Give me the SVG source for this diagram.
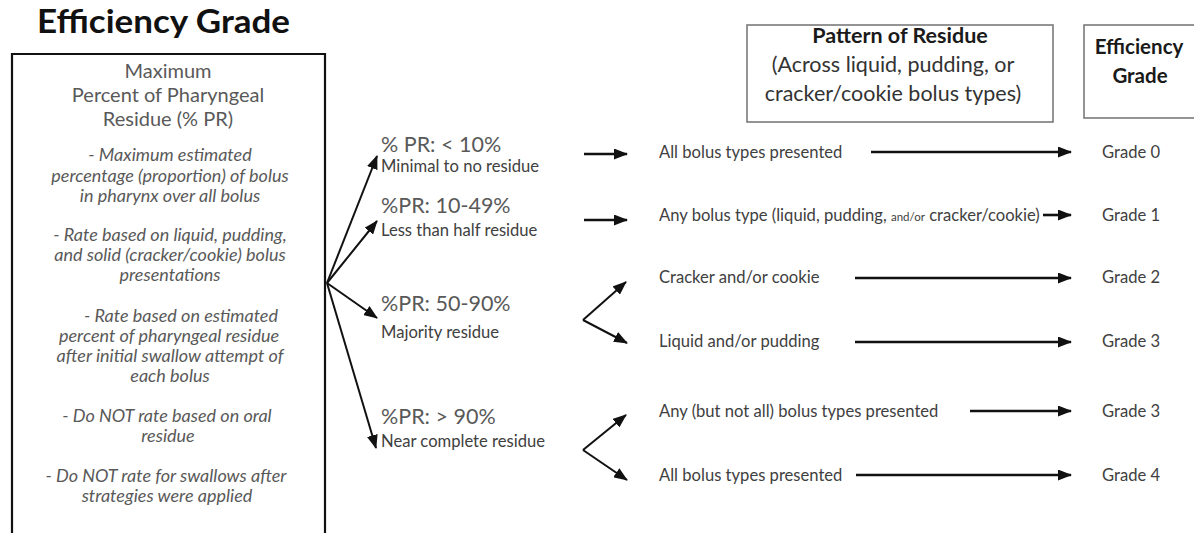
<svg xmlns="http://www.w3.org/2000/svg" width="1194" height="533" viewBox="0 0 1194 533">
  <style>
    .title { font-family: Lato, "Noto Sans", sans-serif; font-weight: 700; fill: #111; }
    .head { font-family: Lato, "Noto Sans", sans-serif; fill: #1a1a1a; }
    .big { font-family: Lato, "Noto Sans", sans-serif; fill: #595959; }
    .it { font-family: Lato, "Noto Sans", sans-serif; font-style: italic; fill: #595959; font-size: 18px; }
    .lbl { font-family: Lato, "Noto Sans", sans-serif; fill: #404040; font-size: 16.6px; }
    .box { fill: #fff; stroke: #111; stroke-width: 2.2; }
    .hbox { fill: #fff; stroke: #7a7a7a; stroke-width: 1.6; }
    .arr { stroke: #111; stroke-width: 2; fill: none; marker-end: url(#ah); }
    .arrT { stroke: #111; stroke-width: 2.6; fill: none; marker-end: url(#ah); }
  </style>
  <defs>
    <marker id="ah" markerUnits="userSpaceOnUse" markerWidth="14" markerHeight="11" refX="13" refY="5.5" orient="auto">
      <path d="M0,0 L14,5.5 L0,11 z" fill="#111"/>
    </marker>
  </defs>
  <rect width="1194" height="533" fill="#fff"/>

  <text class="title" x="37" y="33" font-size="32" textLength="253" lengthAdjust="spacingAndGlyphs">Efficiency Grade</text>

  <!-- criteria box (bottom edge runs off the page) -->
  <g id="criteria">
    <path class="box" d="M12,540 L12,54 L325,54 L325,540"/>
    <g class="big" font-size="20" text-anchor="middle">
      <text x="168" y="78">Maximum</text>
      <text x="168" y="102">Percent of Pharyngeal</text>
      <text x="168" y="126">Residue (% PR)</text>
    </g>
    <g class="it" text-anchor="middle">
      <text x="170" y="161">- Maximum estimated</text>
      <text x="170" y="182">percentage (proportion) of bolus</text>
      <text x="170" y="202">in pharynx over all bolus</text>
      <text x="170" y="241">- Rate based on liquid, pudding,</text>
      <text x="170" y="261">and solid (cracker/cookie) bolus</text>
      <text x="170" y="281">presentations</text>
      <text x="181" y="322">- Rate based on estimated</text>
      <text x="169" y="342">percent of pharyngeal residue</text>
      <text x="170" y="362">after initial swallow attempt of</text>
      <text x="170" y="382">each bolus</text>
      <text x="167" y="422">- Do NOT rate based on oral</text>
      <text x="168" y="442">residue</text>
      <text x="166" y="482">- Do NOT rate for swallows after</text>
      <text x="167" y="502">strategies were applied</text>
    </g>
  </g>

  <!-- header boxes -->
  <g id="pattern-header">
    <rect class="hbox" x="747" y="25" width="306" height="97"/>
    <g class="head" font-size="21.5" text-anchor="middle">
      <text x="900" y="43" font-weight="700">Pattern of Residue</text>
      <text x="893" y="72" fill="#333">(Across liquid, pudding, or</text>
      <text x="893" y="101" fill="#333">cracker/cookie bolus types)</text>
    </g>
  </g>
  <g id="grade-header">
    <rect class="hbox" x="1084" y="25" width="130" height="93"/>
    <g class="head" font-size="20.5" font-weight="700" text-anchor="middle">
      <text x="1139" y="54">Efficiency</text>
      <text x="1140" y="83">Grade</text>
    </g>
  </g>

  <!-- residue ranges -->
  <g id="range-lt10">
    <text class="big" x="381" y="152" font-size="21.5">% PR: &lt; 10%</text>
    <text class="lbl" x="381" y="172" font-size="18.5">Minimal to no residue</text>
  </g>
  <g id="range-10-49">
    <text class="big" x="381" y="213" font-size="21.5">%PR: 10-49%</text>
    <text class="lbl" x="381" y="236" font-size="18.5">Less than half residue</text>
  </g>
  <g id="range-50-90">
    <text class="big" x="381" y="311" font-size="21.5">%PR: 50-90%</text>
    <text class="lbl" x="381" y="338" font-size="18.5">Majority residue</text>
  </g>
  <g id="range-gt90">
    <text class="big" x="381" y="424" font-size="21.5">%PR: &gt; 90%</text>
    <text class="lbl" x="381" y="447" font-size="18.5">Near complete residue</text>
  </g>

  <!-- residue patterns -->
  <g id="pattern-all-0"><text class="lbl" x="659" y="158">All bolus types presented</text></g>
  <g id="pattern-any-1"><text class="lbl" x="659" y="221">Any bolus type (liquid, pudding, <tspan font-size="11.5">and/or</tspan> cracker/cookie)</text></g>
  <g id="pattern-cracker"><text class="lbl" x="659" y="283">Cracker and/or cookie</text></g>
  <g id="pattern-liquid"><text class="lbl" x="659" y="347">Liquid and/or pudding</text></g>
  <g id="pattern-some"><text class="lbl" x="659" y="417">Any (but not all) bolus types presented</text></g>
  <g id="pattern-all-4"><text class="lbl" x="659" y="481">All bolus types presented</text></g>

  <!-- grades -->
  <g class="lbl">
    <g id="grade-0"><text x="1102" y="158">Grade 0</text></g>
    <g id="grade-1"><text x="1102" y="221">Grade 1</text></g>
    <g id="grade-2"><text x="1102" y="283">Grade 2</text></g>
    <g id="grade-3a"><text x="1102" y="347">Grade 3</text></g>
    <g id="grade-3b"><text x="1102" y="417">Grade 3</text></g>
    <g id="grade-4"><text x="1102" y="481">Grade 4</text></g>
  </g>

  <!-- connectors -->
  <g id="connectors">
    <line class="arr" x1="327" y1="283" x2="377" y2="156"/>
    <line class="arr" x1="327" y1="283" x2="377" y2="221"/>
    <line class="arr" x1="327" y1="283" x2="377" y2="318"/>
    <line class="arr" x1="327" y1="283" x2="376" y2="448"/>

    <line class="arrT" x1="584" y1="154" x2="627" y2="154"/>
    <line class="arrT" x1="584" y1="220" x2="627" y2="220"/>

    <line class="arr" x1="583" y1="320" x2="626" y2="282"/>
    <line class="arr" x1="583" y1="320" x2="627" y2="343"/>
    <line class="arr" x1="583" y1="450" x2="626" y2="415"/>
    <line class="arr" x1="583" y1="450" x2="627" y2="480"/>

    <line class="arrT" x1="871" y1="152" x2="1071" y2="152"/>
    <line class="arrT" x1="1043" y1="215" x2="1071" y2="215"/>
    <line class="arrT" x1="855" y1="278" x2="1071" y2="278"/>
    <line class="arrT" x1="855" y1="342" x2="1071" y2="342"/>
    <line class="arrT" x1="970" y1="411" x2="1071" y2="411"/>
    <line class="arrT" x1="856" y1="475" x2="1071" y2="475"/>
  </g>
</svg>
